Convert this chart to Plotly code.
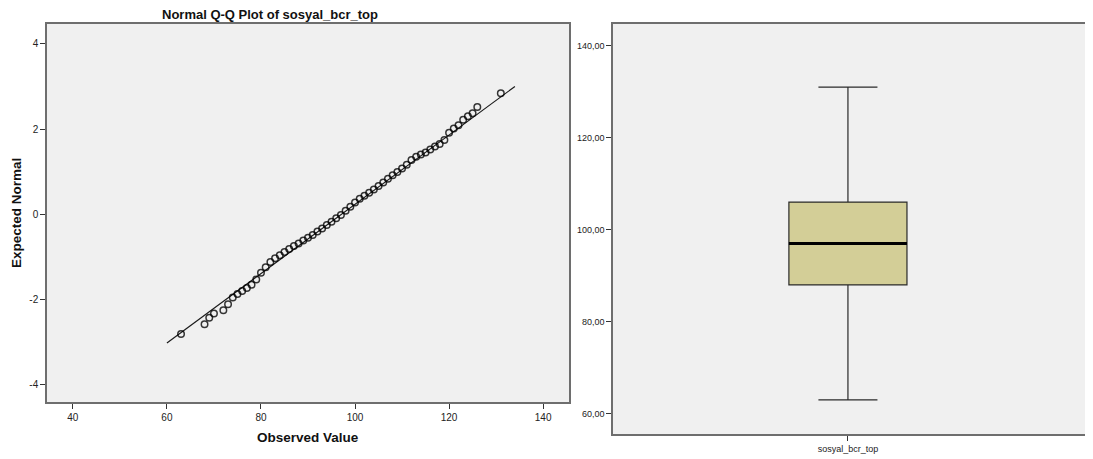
import plotly.graph_objects as go

# ---------------- data ----------------
observed_value = [63, 68, 69, 70, 72, 73, 74, 75, 76, 77, 78, 79, 80, 81, 82, 83, 84, 85,
                  86, 87, 88, 89, 90, 91, 92, 93, 94, 95, 96, 97, 98, 99, 100, 101, 102,
                  103, 104, 105, 106, 107, 108, 109, 110, 111, 112, 113, 114, 115, 116,
                  117, 118, 119, 120, 121, 122, 123, 124, 125, 126, 131]
expected_normal = [-2.82, -2.59, -2.44, -2.34, -2.26, -2.12, -1.96, -1.88, -1.81, -1.74,
                   -1.66, -1.54, -1.38, -1.25, -1.13, -1.04, -0.97, -0.89, -0.82, -0.75,
                   -0.69, -0.62, -0.56, -0.49, -0.41, -0.34, -0.26, -0.18, -0.10, -0.02,
                   0.08, 0.17, 0.27, 0.36, 0.43, 0.50, 0.58, 0.66, 0.74, 0.83, 0.91, 0.99,
                   1.07, 1.16, 1.27, 1.35, 1.40, 1.45, 1.52, 1.59, 1.65, 1.74, 1.91, 2.01,
                   2.09, 2.22, 2.30, 2.37, 2.52, 2.84]
ref_line_x = [60, 134]
ref_line_y = [-3.03, 3.00]

box_category = "sosyal_bcr_top"
box_min = 63
box_q1 = 88
box_median = 97
box_q3 = 106
box_max = 131

qq_xticks = [40, 60, 80, 100, 120, 140]
qq_yticks = [-4, -2, 0, 2, 4]
qq_ytick_labels = ["-4", "-2", "0", "2", "4"]
box_yticks = [60, 80, 100, 120, 140]

# ---------------- styling ----------------
OFF = 8                      # default page margin around the plot div
W, H = 1093 - OFF, 459 - OFF
FONT = "Liberation Sans, Arial, sans-serif"
FRAME = "#6e6e6e"
BG = "#f0f0f0"
TICKFONT = dict(family=FONT, size=10, color="#222")

box_width = 0.494

fig = go.Figure()

fig.add_trace(go.Scatter(
    x=ref_line_x, y=ref_line_y, mode="lines",
    line=dict(color="#1a1a1a", width=1.2),
    xaxis="x", yaxis="y", showlegend=False, hoverinfo="skip"))

fig.add_trace(go.Scatter(
    x=observed_value, y=expected_normal, mode="markers",
    marker=dict(symbol="circle", size=6.5, color="rgba(0,0,0,0)",
                line=dict(color="rgba(0,0,0,0.78)", width=1.5)),
    xaxis="x", yaxis="y", showlegend=False))

fig.add_trace(go.Box(
    x=[0], q1=[box_q1], median=[box_median], q3=[box_q3],
    lowerfence=[box_min], upperfence=[box_max],
    width=box_width, whiskerwidth=0.5,
    fillcolor="#d3ce97", line=dict(color="#2a2a2a", width=1.2),
    boxpoints=False, xaxis="x2", yaxis="y2", showlegend=False))

fig.add_trace(go.Scatter(
    x=[-box_width / 2, box_width / 2], y=[box_median, box_median], mode="lines",
    line=dict(color="black", width=3),
    xaxis="x2", yaxis="y2", showlegend=False, hoverinfo="skip"))

def px_x(p):
    return (p - OFF) / W

def px_y(p):
    return 1 - (p - OFF) / H

axis_common = dict(showgrid=False, zeroline=False, showline=True, mirror=True,
                   linecolor=FRAME, linewidth=1.5, ticks="outside", ticklen=5,
                   tickcolor="#333", tickwidth=1, tickfont=TICKFONT)

fig.update_layout(
    width=W, height=H, autosize=False,
    margin=dict(l=0, r=0, t=0, b=0),
    paper_bgcolor="white", plot_bgcolor=BG,
    separators=",.",
    font=dict(family=FONT),
    xaxis=dict(domain=[px_x(47), px_x(569)], range=[34.5, 145.5],
               tickvals=qq_xticks, anchor="y", **axis_common),
    yaxis=dict(domain=[px_y(402), px_y(24)], range=[-4.42, 4.47],
               tickvals=qq_yticks, ticktext=qq_ytick_labels, anchor="x", **axis_common),
    xaxis2=dict(domain=[px_x(613), px_x(1091)], range=[-0.983, 1.017],
                tickvals=[0], ticktext=[box_category], anchor="y2",
                **{**axis_common, "tickfont": dict(family=FONT, size=9, color="#222")}),
    yaxis2=dict(domain=[px_y(434), px_y(24)], range=[55.6, 144.7],
                tickvals=box_yticks, tickformat=".2f", anchor="x2",
                **{**axis_common, "tickfont": dict(family=FONT, size=9, color="#222")}),
    annotations=[
        dict(text="<b>Normal Q-Q Plot of sosyal_bcr_top</b>", x=px_x(270), y=px_y(14),
             xref="paper", yref="paper", showarrow=False, xanchor="center", yanchor="middle",
             font=dict(family=FONT, size=13, color="#111")),
        dict(text="<b>Observed Value</b>", x=px_x(308), y=px_y(437),
             xref="paper", yref="paper", showarrow=False, xanchor="center", yanchor="middle",
             font=dict(family=FONT, size=13.5, color="#111")),
        dict(text="<b>Expected Normal</b>", x=px_x(16), y=px_y(213), textangle=-90,
             xref="paper", yref="paper", showarrow=False, xanchor="center", yanchor="middle",
             font=dict(family=FONT, size=13.5, color="#111")),
    ],
)

fig.write_html("out.html")
